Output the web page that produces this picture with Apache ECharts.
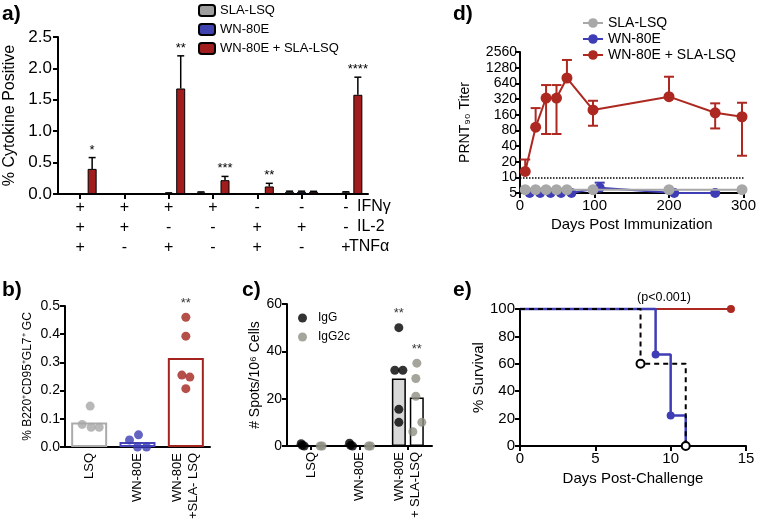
<!DOCTYPE html>
<html><head><meta charset="utf-8">
<script src="https://cdn.jsdelivr.net/npm/echarts@6/dist/echarts.min.js"></script>
<style>html,body{margin:0;padding:0;background:#fff}#c{width:759px;height:525px}</style>
</head><body><div id="c"></div><script>
// ---------- Panel a : cytokine combos ----------
const aIFNg = ['+','+','+','+','-','-','-'];
const aIL2  = ['+','+','-','-','+','+','-'];
const aTNFa = ['+','-','+','-','+','-','+'];
const aRowNames = ['IFNγ','IL-2','TNFα'];
const aSeriesNames = ['SLA-LSQ','WN-80E','WN-80E + SLA-LSQ'];
const aSLA      = [0.004,0.004,0.004,0.025,0.004,0.035,0.006];
const aSLAErr   = [0,0,0,0.008,0,0.01,0];
const aWN       = [0.004,0.004,0.012,0.004,0.004,0.035,0.025];
const aWNErr    = [0,0,0.006,0,0,0.01,0.01];
const aCombo    = [0.40,0.004,1.68,0.22,0.12,0.035,1.58];
const aComboErr = [0.18,0,0.52,0.06,0.05,0.008,0.28];
const aStars    = ['*','','**','***','**','','****'];

// ---------- Panel b : GC B cells ----------
const bCategories = ['LSQ','WN-80E','WN-80E\n+SLA- LSQ'];
const bMeans  = [0.087,0.018,0.316];
const bPoints = [[0.145,0.080,0.070,0.070],[0.043,0.025,0.0,0.0],[0.460,0.393,0.255,0.248,0.207]];
const bStars  = ['','','**'];

// ---------- Panel c : ELISPOT ----------
const cCategories = ['LSQ','WN-80E','WN-80E\n+ SLA-LSQ'];
const cIgGMean   = [0.4,0.4,28.5];
const cIgG2cMean = [0,0,20.5];
const cIgGPts    = [[1.0,0.3,0.0],[1.2,0.3,0.0],[50,32,32,15.5,10]];
const cIgG2cPts  = [[0,0],[0,0],[35,28.5,21,10,6]];
const cStars     = ['','','**'];

// ---------- Panel d : PRNT90 titers ----------
const dNames = ['SLA-LSQ','WN-80E','WN-80E + SLA-LSQ'];
const dDaysSLA   = [7,21,35,49,63,98,200,298];
const dSLA       = [5.8,5.8,5.8,5.8,5.8,5.8,5.8,5.8];
const dDaysWN    = [13,27,41,55,69,107,207,262];
const dWN        = [5,5,5,5,5,6.3,5,5];
const dWNHi      = [5,5,5,5,5,7.9,5,5];
const dDaysCombo = [7,21,35,49,63,98,200,262,298];
const dCombo     = [13,92,334,334,810,197,355,174,146];
const dComboLo   = [13,92,68,68,810,98,355,87,26];
const dComboHi   = [22,214,593,593,1800,296,857,264,271];
const dTicks     = [5,10,20,40,80,160,320,640,1280,2560];

// ---------- Panel e : survival ----------
const eDaysCombo = [0,14],        eSurvCombo = [100,100];
const eDaysWN    = [0,9,10,11],   eSurvWN    = [100,66.7,22.2,0];
const eDaysSLA   = [0,8,11],      eSurvSLA   = [100,60,0];

// ================= styling =================
const FONT = '"Liberation Sans", Arial, Helvetica, sans-serif';
const GRAY_F = '#9e9e9e', BLUE_F = '#3e43b0', RED_F = '#a11d1d';
const GRAY = '#a8a8a8', BLUE = '#3f3db5', RED = '#ad2820';
const lab = (fs, extra) => Object.assign({color:'#000', fontSize:fs, fontFamily:FONT}, extra || {});
const axLine = {show:true, onZero:false, lineStyle:{color:'#000', width:2}};
const axTick = (extra) => Object.assign({show:true, length:5, lineStyle:{color:'#000', width:2}}, extra || {});
const noSplit = {show:false};

const chart = echarts.init(document.getElementById('c'), null, {width:759, height:525});

// bar geometry panel a (style)
const aBarW = 9, aGapPx = 3;
function aErrSeries(k, means, errs, stars) {
  const off = (k - 1) * (aBarW + aGapPx);
  return {
    type:'custom', xAxisIndex:0, yAxisIndex:0, z:5, silent:true,
    data: means.map((m, i) => [i, m, m + errs[i]]),
    renderItem(params, api) {
      const i = api.value(0), m = api.value(1), hi = api.value(2);
      const p1 = api.coord([i, m]), p2 = api.coord([i, hi]);
      const cx = p1[0] + off;
      const ch = [];
      if (hi > m) {
        ch.push({type:'line', shape:{x1:cx, y1:p1[1], x2:cx, y2:p2[1]}, style:{stroke:'#000', lineWidth:1.5}});
        ch.push({type:'line', shape:{x1:cx-3.5, y1:p2[1], x2:cx+3.5, y2:p2[1]}, style:{stroke:'#000', lineWidth:1.5}});
      }
      const st = stars ? stars[params.dataIndex] : '';
      if (st) ch.push({type:'text', x:cx, y:p2[1]-1, style:{text:st, fontSize:13, fontFamily:FONT, fill:'#000', align:'center', verticalAlign:'bottom'}});
      return {type:'group', children:ch};
    }
  };
}
function dErrSeries(days, vals, los, his, color) {
  return {
    type:'custom', xAxisIndex:3, yAxisIndex:3, z:4, silent:true,
    data: days.map((d, i) => [d, vals[i], los[i], his[i]]),
    renderItem(params, api) {
      const x = api.value(0), v = api.value(1), lo = api.value(2), hi = api.value(3);
      const pv = api.coord([x, v]), pl = api.coord([x, lo]), ph = api.coord([x, hi]);
      const s = {stroke:color, lineWidth:2};
      const ch = [];
      if (hi > v) {
        ch.push({type:'line', shape:{x1:pv[0], y1:pv[1], x2:pv[0], y2:ph[1]}, style:s});
        ch.push({type:'line', shape:{x1:pv[0]-5, y1:ph[1], x2:pv[0]+5, y2:ph[1]}, style:s});
      }
      if (lo < v) {
        ch.push({type:'line', shape:{x1:pv[0], y1:pv[1], x2:pv[0], y2:pl[1]}, style:s});
        ch.push({type:'line', shape:{x1:pv[0]-5, y1:pl[1], x2:pv[0]+5, y2:pl[1]}, style:s});
      }
      return {type:'group', children:ch};
    }
  };
}

// jitter offsets for dot plots (style, px)
const bJit = [[1,-7,2,10],[1,-8,0,9],[0,0,-4,4,0]];
const bDotColors = ['#a6a6a6','#3c3cb4','#a3231d'];
const bBarColors = ['#ababab','#4646b8','#a3241f'];
const cIgGJit   = [[-1,0,2],[-1,0,2],[0,-4,4,0,0]];
const cIgG2cJit = [[0,2],[0,2],[0,-1,-1,5,-4]];

function dotData(pts, jit, base, colors, stars) {
  const out = [];
  pts.forEach((arr, i) => {
    const top = Math.max.apply(null, arr);
    let starred = false;
    arr.forEach((v, j) => {
      const item = {value:[i, v], symbolOffset:[base + jit[i][j], 0]};
      if (colors) item.itemStyle = {color:colors[i]};
      if (stars && stars[i] && v === top && !starred) {
        starred = true;
        item.label = {show:true, formatter:stars[i], position:'top', distance:3, fontSize:13, fontFamily:FONT, color:'#000'};
      }
      out.push(item);
    });
  });
  return out;
}

const aLabels = aIFNg.map((v, i) => v + '\n' + aIL2[i] + '\n' + aTNFa[i]);
const zip = (xs, ys) => xs.map((x, i) => [x, ys[i]]);
const nearestTick = v => dTicks.reduce((b, t) => Math.abs(Math.log(t / v)) < Math.abs(Math.log(b / v)) ? t : b, dTicks[0]);

const option = {
  animation:false,
  backgroundColor:'#fff',
  textStyle:{fontFamily:FONT, color:'#000'},
  grid:[
    {left:58, top:37, width:310, height:157},
    {left:65, top:306, width:145, height:141},
    {left:287, top:304, width:145, height:142},
    {left:520, top:52, width:225, height:141},
    {left:520, top:309, width:226, height:137}
  ],
  legend:[
    {data:aSeriesNames, orient:'vertical', left:193, top:-1, itemWidth:16, itemHeight:11, itemGap:6,
     textStyle:lab(13), selectedMode:false},
    {data:dNames.map(n => n + ' '), orient:'vertical', left:577, top:11, itemWidth:20, itemHeight:12, itemGap:2,
     textStyle:lab(14), selectedMode:false},
    {data:['IgG','IgG2c'], orient:'vertical', left:293, top:307, itemWidth:9, itemHeight:9, itemGap:7,
     textStyle:lab(12, {padding:[0,0,0,6]}), selectedMode:false}
  ],
  xAxis:[
    {gridIndex:0, type:'category', data:aLabels, axisLine:axLine, axisTick:axTick({alignWithLabel:true}),
     axisLabel:lab(16, {lineHeight:20, margin:4, interval:0}), splitLine:noSplit},
    {gridIndex:1, type:'category', data:bCategories, axisLine:axLine, axisTick:{show:false},
     axisLabel:lab(13, {rotate:90, margin:6, interval:0, lineHeight:16}), splitLine:noSplit},
    {gridIndex:2, type:'category', data:cCategories, axisLine:axLine, axisTick:axTick({alignWithLabel:true, length:4}),
     axisLabel:lab(13, {rotate:90, margin:6, interval:0, lineHeight:16}), splitLine:noSplit},
    {gridIndex:3, type:'value', min:0, max:300, interval:100, axisLine:axLine, axisTick:axTick(),
     axisLabel:lab(15, {margin:5}), splitLine:noSplit,
     name:'Days Post Immunization', nameLocation:'middle', nameGap:24, nameTextStyle:lab(15)},
    {gridIndex:4, type:'value', min:0, max:15, interval:5, axisLine:axLine, axisTick:axTick(),
     axisLabel:lab(15, {margin:5}), splitLine:noSplit,
     name:'Days Post-Challenge', nameLocation:'middle', nameGap:25, nameTextStyle:lab(15)}
  ],
  yAxis:[
    {gridIndex:0, type:'value', min:0, max:2.5, interval:0.5, axisLine:axLine, axisTick:axTick(),
     axisLabel:lab(17, {margin:6, formatter:v => v.toFixed(1)}), splitLine:noSplit,
     name:'% Cytokine Positive', nameLocation:'middle', nameGap:40, nameTextStyle:lab(16)},
    {gridIndex:1, type:'value', min:0, max:0.5, interval:0.1, axisLine:axLine, axisTick:axTick(),
     axisLabel:lab(14, {margin:5, formatter:v => v.toFixed(1)}), splitLine:noSplit,
     name:'% B220⁺CD95⁺GL7⁺ GC', nameLocation:'middle', nameGap:31, nameTextStyle:lab(12)},
    {gridIndex:2, type:'value', min:0, max:60, interval:20, axisLine:axLine, axisTick:axTick(),
     axisLabel:lab(14, {margin:5}), splitLine:noSplit,
     name:'# Spots/10⁶ Cells', nameLocation:'middle', nameGap:18, nameTextStyle:lab(14)},
    {gridIndex:3, type:'log', logBase:2, min:5, max:2560, interval:1, axisLine:axLine, axisTick:axTick(),
     axisLabel:lab(14, {margin:3, formatter:v => String(nearestTick(v))}), splitLine:noSplit,
     name:'PRNT₉₀ Titer', nameLocation:'middle', nameGap:48, nameTextStyle:lab(14)},
    {gridIndex:4, type:'value', min:0, max:100, interval:20, axisLine:axLine, axisTick:axTick(),
     axisLabel:lab(15, {margin:5}), splitLine:noSplit,
     name:'% Survival', nameLocation:'middle', nameGap:32, nameTextStyle:lab(15)}
  ],
  series:[
    // panel a bars
    {name:aSeriesNames[0], type:'bar', xAxisIndex:0, yAxisIndex:0, data:aSLA, barWidth:aBarW, barGap:(aGapPx/aBarW*100)+'%',
     itemStyle:{color:GRAY_F, borderColor:'#000', borderWidth:1}},
    {name:aSeriesNames[1], type:'bar', xAxisIndex:0, yAxisIndex:0, data:aWN, barWidth:aBarW, barGap:(aGapPx/aBarW*100)+'%',
     itemStyle:{color:BLUE_F, borderColor:'#000', borderWidth:1}},
    {name:aSeriesNames[2], type:'bar', xAxisIndex:0, yAxisIndex:0, data:aCombo, barWidth:aBarW, barGap:(aGapPx/aBarW*100)+'%',
     itemStyle:{color:RED_F, borderColor:'#000', borderWidth:1}},
    aErrSeries(0, aSLA, aSLAErr, null),
    aErrSeries(1, aWN, aWNErr, null),
    aErrSeries(2, aCombo, aComboErr, aStars),

    // panel b
    {name:'b mean', type:'bar', xAxisIndex:1, yAxisIndex:1, barWidth:36,
     data:bMeans.map((v, i) => ({value:v, itemStyle:{borderColor:bBarColors[i]}})),
     itemStyle:{color:'#fff', borderWidth:2}},
    {name:'b points', type:'scatter', xAxisIndex:1, yAxisIndex:1, symbolSize:9, z:5,
     data:dotData(bPoints, bJit, 0, bDotColors, bStars)},

    // panel c
    {name:'IgG mean', type:'bar', xAxisIndex:2, yAxisIndex:2, barWidth:14, barGap:'28%', data:cIgGMean,
     itemStyle:{color:'#d9d9d9', borderColor:'#000', borderWidth:1.5}},
    {name:'IgG2c mean', type:'bar', xAxisIndex:2, yAxisIndex:2, barWidth:14, barGap:'28%', data:cIgG2cMean,
     itemStyle:{color:'#fff', borderColor:'#000', borderWidth:1.5}},
    {name:'IgG', type:'scatter', xAxisIndex:2, yAxisIndex:2, symbolSize:9, z:5, itemStyle:{color:'#000'},
     data:dotData(cIgGPts, cIgGJit, -9, null, cStars)},
    {name:'IgG2c', type:'scatter', xAxisIndex:2, yAxisIndex:2, symbolSize:9, z:5, itemStyle:{color:'#8e8e82'},
     data:dotData(cIgG2cPts, cIgG2cJit, 9, null, cStars)},

    // panel d
    {name:dNames[1] + ' ', type:'line', xAxisIndex:3, yAxisIndex:3, data:zip(dDaysWN, dWN), symbol:'circle', symbolSize:10,
     itemStyle:{color:BLUE}, lineStyle:{color:BLUE, width:2}, z:3},
    {name:dNames[0] + ' ', type:'line', xAxisIndex:3, yAxisIndex:3, data:zip(dDaysSLA, dSLA), symbol:'circle', symbolSize:11,
     itemStyle:{color:GRAY}, lineStyle:{color:GRAY, width:2}, z:4,
     markLine:{silent:true, symbol:'none', label:{show:false}, lineStyle:{type:'dotted', color:'#000', width:1.5},
               data:[{yAxis:10}]}},
    {name:dNames[2] + ' ', type:'line', xAxisIndex:3, yAxisIndex:3, data:zip(dDaysCombo, dCombo), symbol:'circle', symbolSize:11,
     itemStyle:{color:RED}, lineStyle:{color:RED, width:2}, z:5},
    dErrSeries(dDaysCombo, dCombo, dComboLo, dComboHi, RED),
    dErrSeries(dDaysWN, dWN, dWN, dWNHi, BLUE),

    // panel e
    {name:'e combo', type:'line', step:'end', xAxisIndex:4, yAxisIndex:4, clip:false,
     data:zip(eDaysCombo, eSurvCombo).map((p, i) => ({value:p, symbol: i === 0 ? 'none' : 'circle'})),
     symbolSize:8, itemStyle:{color:RED}, lineStyle:{color:RED, width:2}, z:2},
    {name:'e wn', type:'line', step:'end', xAxisIndex:4, yAxisIndex:4, clip:false,
     data:zip(eDaysWN, eSurvWN).map((p, i) => ({value:p, symbol: i === 0 ? 'none' : 'circle'})),
     symbolSize:8, itemStyle:{color:BLUE}, lineStyle:{color:BLUE, width:2.5}, z:3},
    {name:'e sla', type:'line', step:'end', xAxisIndex:4, yAxisIndex:4, clip:false,
     data:zip(eDaysSLA, eSurvSLA).map((p, i) => ({value:p, symbol: i === 0 ? 'none' : 'circle'})),
     symbolSize:8, itemStyle:{color:'#fff', borderColor:'#000', borderWidth:2},
     lineStyle:{color:'#000', width:2, type:[5,4]}, z:4}
  ],
  graphic:[
    {type:'text', left:2, top:4, style:{text:'a)', font:'bold 21px ' + FONT, fill:'#000'}},
    {type:'text', left:2, top:280, style:{text:'b)', font:'bold 21px ' + FONT, fill:'#000'}},
    {type:'text', left:242, top:280, style:{text:'c)', font:'bold 21px ' + FONT, fill:'#000'}},
    {type:'text', left:453, top:4, style:{text:'d)', font:'bold 21px ' + FONT, fill:'#000'}},
    {type:'text', left:453, top:280, style:{text:'e)', font:'bold 21px ' + FONT, fill:'#000'}},
    {type:'text', x:357, y:207, style:{text:aRowNames[0], fontSize:16, fontFamily:FONT, fill:'#000', verticalAlign:'middle'}},
    {type:'text', x:357, y:227, style:{text:aRowNames[1], fontSize:16, fontFamily:FONT, fill:'#000', verticalAlign:'middle'}},
    {type:'text', x:349, y:247, style:{text:aRowNames[2], fontSize:16, fontFamily:FONT, fill:'#000', verticalAlign:'middle'}},
    {type:'text', x:664, y:298, style:{text:'(p<0.001)', fontSize:12.5, fontFamily:FONT, fill:'#000', align:'center', verticalAlign:'middle'}}
  ]
};
chart.setOption(option);
</script></body></html>
